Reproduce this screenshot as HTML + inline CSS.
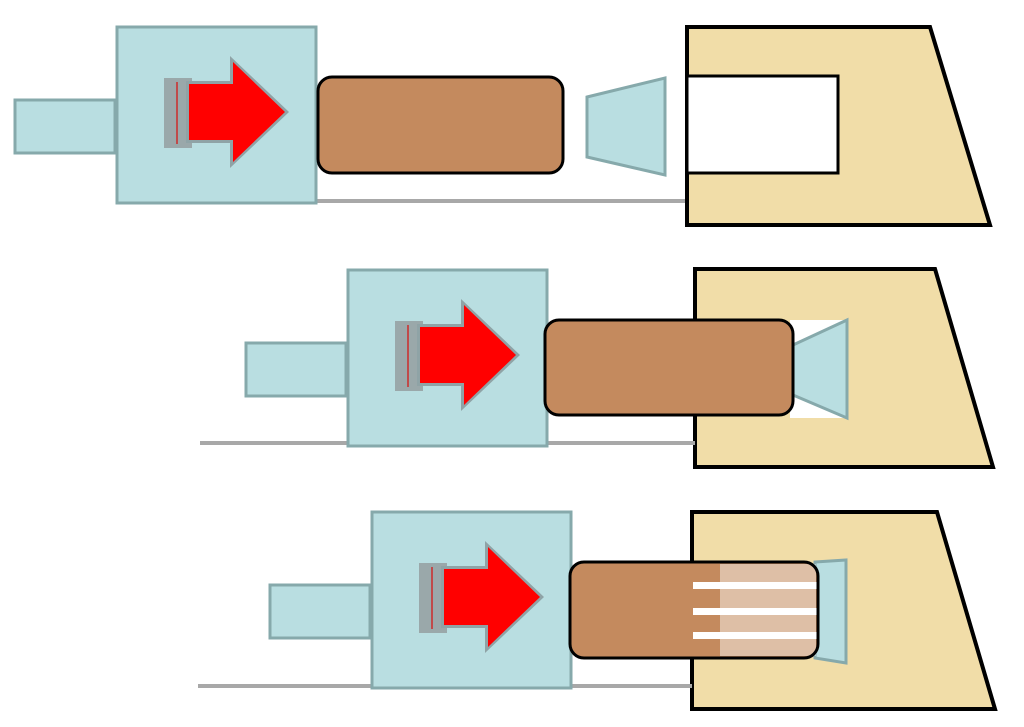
<!DOCTYPE html>
<html><head><meta charset="utf-8"><style>html,body{margin:0;padding:0;background:#fff;width:1024px;height:727px;overflow:hidden}</style></head>
<body>
<svg width="1024" height="727" viewBox="0 0 1024 727" xmlns="http://www.w3.org/2000/svg">
<defs>
<g id="arrow">
<rect x="164" y="78" width="28" height="70" fill="#9aa8aa"/>
<line x1="177" y1="82" x2="177" y2="144" stroke="#c04a4a" stroke-width="2"/>
<polygon points="186,81 230,81 230,56 289,112 230,168 230,143 186,143" fill="#8fa3a6"/>
<polygon points="189,84 233,84 233,62 285,112 233,162 233,140 189,140" fill="#ff0000"/>
</g>
<g id="base">
<rect x="15" y="100" width="100" height="53" fill="#b9dee1" stroke="#86a9ab" stroke-width="3"/>
<rect x="117" y="27" width="199" height="176" fill="#b9dee1" stroke="#86a9ab" stroke-width="3"/>
<use href="#arrow"/>
</g>
</defs>

<line x1="316" y1="201" x2="688" y2="201" stroke="#a8a8a8" stroke-width="4"/>
<use href="#base"/>
<rect x="318" y="77" width="245" height="96" rx="14" fill="#c48a5e" stroke="#000" stroke-width="3"/>
<polygon points="587,97 665,78 665,175 587,157" fill="#b9dee1" stroke="#86a9ab" stroke-width="3"/>
<polygon points="687,27 930,27 990,225 687,225" fill="#f1dda8" stroke="#000" stroke-width="4"/>
<rect x="687" y="76" width="151" height="97" fill="#fff" stroke="#000" stroke-width="3"/>

<polygon points="695,269 935,269 993,467 695,467" fill="#f1dda8" stroke="#000" stroke-width="4"/>
<line x1="200" y1="443" x2="695" y2="443" stroke="#a8a8a8" stroke-width="4"/>
<g transform="translate(231,243)"><use href="#base"/></g>
<polygon points="790,320 847,320 847,418 790,418" fill="#fff"/>
<polygon points="793,345 847,320 847,418 793,395" fill="#b9dee1" stroke="#86a9ab" stroke-width="3"/>
<rect x="545" y="320" width="248" height="95" rx="14" fill="#c48a5e" stroke="#000" stroke-width="3"/>

<polygon points="692,512 937,512 995,709 692,709" fill="#f1dda8" stroke="#000" stroke-width="4"/>
<line x1="198" y1="686" x2="692" y2="686" stroke="#a8a8a8" stroke-width="4"/>
<g transform="translate(255,485)"><use href="#base"/></g>
<polygon points="815,562 846,560 846,663 815,658" fill="#b9dee1" stroke="#86a9ab" stroke-width="3"/>
<rect x="570" y="562" width="248" height="96" rx="14" fill="#c48a5e"/>
<rect x="720" y="564" width="96" height="92" fill="#fff" opacity="0.45"/>
<rect x="693" y="582" width="125" height="7" fill="#fff"/>
<rect x="693" y="608" width="125" height="7" fill="#fff"/>
<rect x="693" y="632" width="125" height="7" fill="#fff"/>
<rect x="570" y="562" width="248" height="96" rx="14" fill="none" stroke="#000" stroke-width="3"/>
</svg>
</body></html>
